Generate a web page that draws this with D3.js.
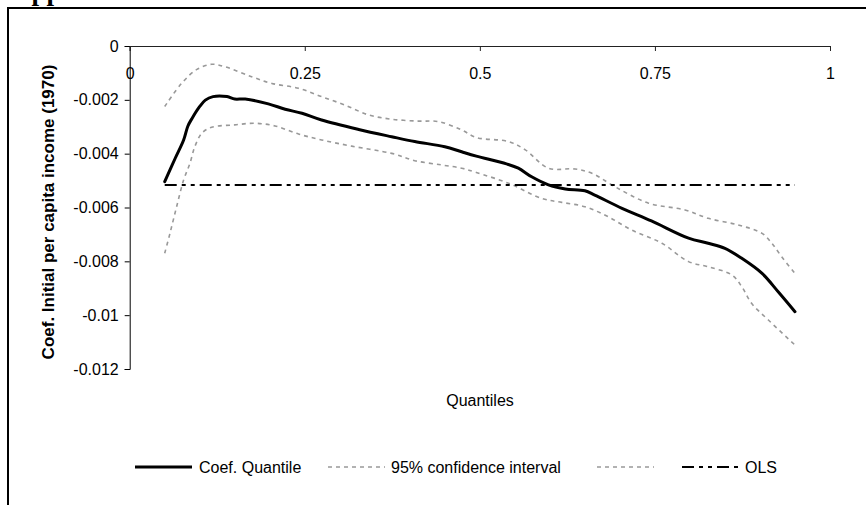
<!DOCTYPE html>
<html>
<head>
<meta charset="utf-8">
<script src="https://cdn.jsdelivr.net/npm/d3@7"></script>
<style>
  html, body { margin: 0; padding: 0; background: #fff; }
  svg { display: block; }
</style>
</head>
<body>
<svg id="chart" width="866" height="505"></svg>
<script>
// Quantile regression coefficient on initial per capita income (1970)
const coefQ = [0.05, 0.065, 0.077, 0.083, 0.089, 0.099, 0.108, 0.119, 0.139, 0.15, 0.165, 0.198, 0.222, 0.246, 0.274, 0.327, 0.374, 0.407, 0.45, 0.474, 0.495, 0.538, 0.555, 0.574, 0.598, 0.622, 0.65, 0.664, 0.703, 0.745, 0.798, 0.826, 0.85, 0.874, 0.903, 0.926, 0.95];
const coefV = [-0.00504, -0.00417, -0.00349, -0.00298, -0.00269, -0.00228, -0.00201, -0.00188, -0.00188, -0.00197, -0.00197, -0.00215, -0.00235, -0.0025, -0.00275, -0.0031, -0.00337, -0.00355, -0.00374, -0.00393, -0.00409, -0.00438, -0.00454, -0.00486, -0.00516, -0.00531, -0.00538, -0.00554, -0.00603, -0.0065, -0.00714, -0.00733, -0.00752, -0.00789, -0.00845, -0.00913, -0.00987];

// Upper bound of the 95% confidence interval
const upperQ = [0.05, 0.074, 0.096, 0.117, 0.136, 0.174, 0.203, 0.241, 0.274, 0.307, 0.341, 0.374, 0.412, 0.441, 0.474, 0.495, 0.541, 0.565, 0.598, 0.636, 0.66, 0.693, 0.741, 0.793, 0.826, 0.869, 0.903, 0.917, 0.931, 0.95];
const upperV = [-0.00225, -0.00139, -0.00087, -0.00068, -0.00077, -0.00114, -0.00139, -0.00157, -0.00188, -0.00219, -0.00256, -0.00272, -0.00279, -0.00281, -0.00312, -0.0034, -0.00355, -0.00386, -0.00454, -0.00457, -0.00473, -0.00523, -0.00584, -0.00609, -0.0064, -0.00665, -0.00696, -0.00733, -0.00783, -0.00845];

// Lower bound of the 95% confidence interval
const lowerQ = [0.05, 0.0575, 0.067, 0.077, 0.086, 0.093, 0.103, 0.117, 0.15, 0.179, 0.2075, 0.241, 0.274, 0.317, 0.374, 0.407, 0.4455, 0.474, 0.495, 0.541, 0.588, 0.617, 0.65, 0.683, 0.717, 0.76, 0.798, 0.826, 0.86, 0.874, 0.888, 0.912, 0.95];
const lowerV = [-0.0077, -0.00696, -0.00597, -0.00498, -0.00436, -0.00374, -0.00324, -0.00302, -0.00293, -0.00287, -0.00297, -0.00327, -0.00349, -0.00372, -0.00399, -0.00426, -0.00442, -0.00454, -0.0047, -0.0051, -0.00566, -0.00581, -0.00597, -0.00634, -0.00684, -0.00733, -0.00801, -0.0082, -0.00851, -0.00894, -0.00956, -0.01018, -0.01111];

// OLS estimate, constant across quantiles
const olsQ = [0.05, 0.95];
const olsV = [-0.00516, -0.00516];

const xTicks = [0, 0.25, 0.5, 0.75, 1];
const xTickLabels = ["0", "0.25", "0.5", "0.75", "1"];
const yTicks = [0, -0.002, -0.004, -0.006, -0.008, -0.01, -0.012];
const yTickLabels = ["0", "-0.002", "-0.004", "-0.006", "-0.008", "-0.01", "-0.012"];

const legendLabels = ["Coef. Quantile", "95% confidence interval", "", "OLS"];

const svg = d3.select("#chart");
const font = "'Liberation Sans', Arial, sans-serif";

// Heading above the frame (only its descenders reach into view)
svg.append("text")
  .attr("x", 12).attr("y", -0.5)
  .attr("font-family", "'Liberation Serif', 'Times New Roman', serif")
  .attr("font-weight", "bold").attr("font-size", 27)
  .text("Appendix");

// Outer frame
svg.append("rect")
  .attr("x", 8).attr("y", 8).attr("width", 900).attr("height", 520)
  .attr("fill", "none").attr("stroke", "#000").attr("stroke-width", 2);

const x = d3.scaleLinear().domain([0, 1]).range([129.7, 830]);
const y = d3.scaleLinear().domain([0, -0.012]).range([46, 369]);

// Y axis
const yAxis = d3.axisLeft(y)
  .tickValues(yTicks)
  .tickFormat((d, i) => yTickLabels[i])
  .tickSize(5).tickPadding(6);
const gy = svg.append("g").attr("transform", `translate(${x(0)},0)`).call(yAxis);
gy.select(".domain").attr("stroke", "#000");
gy.selectAll(".tick line").attr("stroke", "#000");
gy.selectAll(".tick text").attr("font-family", font).attr("font-size", 16).attr("fill", "#000");

// X axis along zero with ticks pointing down into the plot
const xAxis = d3.axisBottom(x)
  .tickValues(xTicks)
  .tickFormat((d, i) => xTickLabels[i])
  .tickSize(5).tickPadding(17).tickSizeOuter(5);
const gx = svg.append("g").attr("transform", `translate(0,${y(0)})`).call(xAxis);
gx.select(".domain").attr("stroke", "#222");
gx.selectAll(".tick line").attr("stroke", "#222");
gx.selectAll(".tick text").attr("font-family", font).attr("font-size", 16).attr("fill", "#000");

// Axis titles
svg.append("text")
  .attr("transform", `translate(54,212) rotate(-90)`)
  .attr("text-anchor", "middle")
  .attr("font-family", font).attr("font-weight", "bold").attr("font-size", 17)
  .text("Coef. Initial per capita income (1970)");

svg.append("text")
  .attr("x", 480).attr("y", 406)
  .attr("text-anchor", "middle")
  .attr("font-family", font).attr("font-size", 16)
  .text("Quantiles");

const line = d3.line()
  .x(d => x(d[0])).y(d => y(d[1]))
  .curve(d3.curveCatmullRom.alpha(0.5));

const zip = (a, b) => a.map((v, i) => [v, b[i]]);

const ciStyle = { stroke: "#999", width: 1.6, dash: "4,4" };
const olsStyle = { stroke: "#000", width: 2, dash: "12,5,4,5,4,5" };
const coefStyle = { stroke: "#000", width: 3, dash: null };

function drawSeries(data, st) {
  svg.append("path")
    .datum(data)
    .attr("d", line)
    .attr("fill", "none")
    .attr("stroke", st.stroke)
    .attr("stroke-width", st.width)
    .attr("stroke-dasharray", st.dash)
    .attr("stroke-linejoin", "round")
    .attr("stroke-linecap", st.dash ? "butt" : "round");
}

drawSeries(zip(upperQ, upperV), ciStyle);
drawSeries(zip(lowerQ, lowerV), ciStyle);
drawSeries(zip(olsQ, olsV), olsStyle);
drawSeries(zip(coefQ, coefV), coefStyle);

// Legend
const legendY = 467;
const legendItems = [
  { x0: 135, x1: 192, tx: 199, st: coefStyle, label: legendLabels[0] },
  { x0: 328, x1: 385, tx: 391, st: ciStyle, label: legendLabels[1] },
  { x0: 597, x1: 654, tx: 660, st: ciStyle, label: legendLabels[2] },
  { x0: 682, x1: 738, tx: 745, st: olsStyle, label: legendLabels[3] }
];
legendItems.forEach(it => {
  svg.append("line")
    .attr("x1", it.x0).attr("x2", it.x1)
    .attr("y1", legendY).attr("y2", legendY)
    .attr("stroke", it.st.stroke)
    .attr("stroke-width", it.st.width)
    .attr("stroke-dasharray", it.st.dash);
  if (it.label) {
    svg.append("text")
      .attr("x", it.tx).attr("y", legendY + 6)
      .attr("font-family", font).attr("font-size", 16)
      .text(it.label);
  }
});
</script>
</body>
</html>
